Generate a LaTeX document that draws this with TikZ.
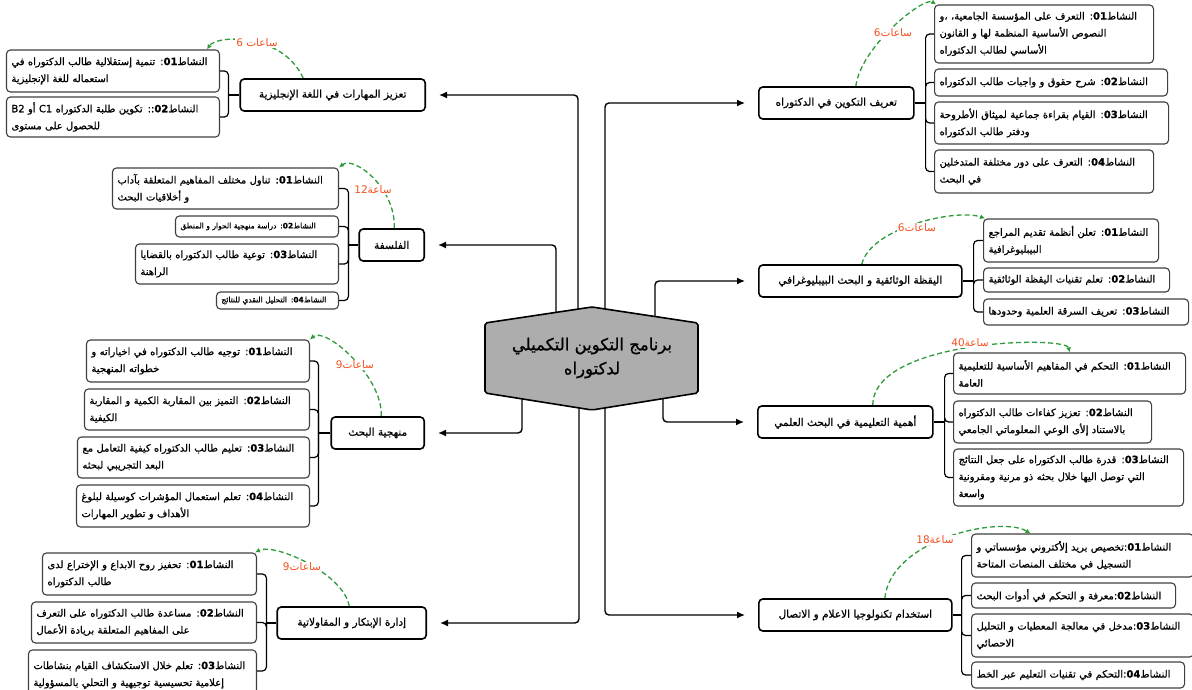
\documentclass[tikz,border=0pt]{standalone}
\usepackage{fontspec}
\usetikzlibrary{arrows.meta}
\newfontfamily\arabicfont[Script=Arabic]{DejaVu Sans}
\newfontfamily\arabicbf[Script=Arabic,FakeBold=0.8]{DejaVu Sans}
\TeXXeTstate=1
\newcommand\artxt[1]{\beginR#1\endR}
\newcommand\nsh[1]{النشاط\beginL\textbf{#1}\endL}
\newcommand\hnum[1]{\beginL#1\endL}
\definecolor{hrscol}{HTML}{F4511E}
\definecolor{hourgreen}{HTML}{2E9B3A}
\definecolor{hubgray}{HTML}{ADADAD}
\pgfdeclarelayer{bg}
\pgfsetlayers{bg,main}
\tikzset{
  topic/.style={draw, line width=1.6pt, rounded corners=4pt, fill=white,
    minimum height=32pt, inner sep=0pt, font=\arabicbf\fontsize{10.5}{13}\selectfont},
  act/.style={draw=black!75, line width=1.1pt, rounded corners=4pt, fill=white,
    align=left, inner xsep=5pt, inner ysep=0pt, font=\arabicbf\fontsize{10}{17}\selectfont},
  tinyact/.style={act, font=\arabicbf\fontsize{7.5}{9}\selectfont},
  spoke/.style={line width=1.4pt, rounded corners=4pt, shorten >=13pt,
    -{Latex[length=8pt,width=7pt]}},
  fork/.style={line width=1.2pt, rounded corners=4pt},
  hourline/.style={hourgreen, line width=1.3pt, dash pattern=on 5pt off 3pt,
    -{Latex[length=5pt,width=5pt]}},
  hrs/.style={fill=white, text=hrscol, inner sep=1pt,
    font=\arabicfont\fontsize{10.5}{12}\selectfont},
  hubshape/.style={draw, fill=hubgray, line width=1.6pt, rounded corners=2pt},
  hubtext/.style={align=center, font=\arabicbf\fontsize{16.5}{24}\selectfont},
}
\begin{document}
\begin{tikzpicture}[x=1pt, y=-1pt]
\useasboundingbox (0,0) rectangle (1192,690);

% centre
\draw[hubshape] (485,323) -- (592,307) -- (698,323) -- (698,393) -- (592,410) -- (485,393) -- cycle;
\node[hubtext] (hub) at (592,358) {\artxt{برنامج التكوين التكميلي}\\\artxt{لدكتوراه}};

% topics, left
\node[topic, minimum width=185pt, anchor=east] (tazeez) at (426,95) {\artxt{تعزيز المهارات في اللغة الإنجليزية}};
\node[topic, minimum width=65pt, anchor=east] (falsafa) at (425,245) {\artxt{الفلسفة}};
\node[topic, minimum width=93pt, anchor=east] (manhaj) at (425,433) {\artxt{منهجية البحث}};
\node[topic, minimum width=149pt, anchor=east] (idara) at (427,623) {\artxt{إدارة الإبتكار و المقاولاتية}};
% topics, right
\node[topic, minimum width=155pt, anchor=west] (taarif) at (758,103) {\artxt{تعريف التكوين في الدكتوراه}};
\node[topic, minimum width=203pt, anchor=west] (yaqadha) at (758,281) {\artxt{اليقظة الوثائقية و البحث البيبليوغرافي}};
\node[topic, minimum width=175pt, anchor=west] (ahamiya) at (757,422) {\artxt{أهمية التعليمية في البحث العلمي}};
\node[topic, minimum width=193pt, anchor=west] (istikhdam) at (758,615) {\artxt{استخدام تكنولوجيا الاعلام و الاتصال}};

% activities
\node[act, text width=203pt, minimum height=42pt, anchor=east] (tz1) at (220,71) {\artxt{\nsh{01}: تنمية إستقلالية طالب الدكتوراه في}\\\artxt{استعماله للغة الإنجليزية}};
\node[act, text width=203pt, minimum height=40pt, anchor=east] (tz2) at (220,117) {\artxt{\nsh{02}:: تكوين طلبة الدكتوراه \beginL C1\endL{} أو \beginL B2\endL}\\\artxt{للحصول على مستوى}};

\node[act, text width=216pt, minimum height=41pt, anchor=east] (fs1) at (339,188.5) {\artxt{\nsh{01}: تناول مختلف المفاهيم المتعلقة بآداب}\\\artxt{و أخلاقيات البحث}};
\node[tinyact, text width=153pt, minimum height=21pt, anchor=east] (fs2) at (339,226.5) {\artxt{\nsh{02}: دراسة منهجية الحوار و المنطق}};
\node[act, text width=193pt, minimum height=40pt, anchor=east] (fs3) at (339,264) {\artxt{\nsh{03}: توعية طالب الدكتوراه بالقضايا}\\\artxt{الراهنة}};
\node[tinyact, text width=112pt, minimum height=17pt, anchor=east] (fs4) at (339,300.5) {\artxt{\nsh{04}: التحليل النقدي للنتائج}};

\node[act, text width=213pt, minimum height=42pt, anchor=east] (mn1) at (310,361) {\artxt{\nsh{01}: توجيه طالب الدكتوراه في اخياراته و}\\\artxt{خطواته المنهجية}};
\node[act, text width=215pt, minimum height=41pt, anchor=east] (mn2) at (310,409.5) {\artxt{\nsh{02}: التميز بين المقاربة الكمية و المقاربة}\\\artxt{الكيفية}};
\node[act, text width=222pt, minimum height=41pt, anchor=east] (mn3) at (310,457.5) {\artxt{\nsh{03}: تعليم طالب الدكتوراه كيفية التعامل مع}\\\artxt{البعد التجريبي لبحثه}};
\node[act, text width=223pt, minimum height=42pt, anchor=east] (mn4) at (310,506) {\artxt{\nsh{04}: تعلم استعمال المؤشرات كوسيلة لبلوغ}\\\artxt{الأهداف و تطوير المهارات}};

\node[act, text width=204pt, minimum height=42pt, anchor=east] (id1) at (257,574) {\artxt{\nsh{01}: تحفيز روح الابداع و الإختراع لدى}\\\artxt{طالب الدكتوراه}};
\node[act, text width=215pt, minimum height=41pt, anchor=east] (id2) at (257,622.5) {\artxt{\nsh{02}: مساعدة طالب الدكتوراه على التعرف}\\\artxt{على المفاهيم المتعلقة بريادة الأعمال}};
\node[act, text width=218pt, minimum height=50pt, anchor=east] (id3) at (257,675) {\artxt{\nsh{03}: تعلم خلال الاستكشاف القيام بنشاطات}\\\artxt{إعلامية تحسيسية توجيهية و التحلي بالمسؤولية}};

\node[act, text width=209pt, minimum height=58pt, anchor=west] (tr1) at (934,34) {\artxt{\nsh{01}: التعرف على المؤسسة الجامعية، ،و}\\\artxt{النصوص الأساسية المنظمة لها و القانون}\\\artxt{الأساسي لطالب الدكتوراه}};
\node[act, text width=223pt, minimum height=27pt, anchor=west] (tr2) at (934,82.5) {\artxt{\nsh{02}: شرح حقوق و واجبات طالب الدكتوراه}};
\node[act, text width=224pt, minimum height=42pt, anchor=west] (tr3) at (934,123) {\artxt{\nsh{03}: القيام بقراءة جماعية لميثاق الأطروحة}\\\artxt{ودفتر طالب الدكتوراه}};
\node[act, text width=209pt, minimum height=43pt, anchor=west] (tr4) at (934,171.5) {\artxt{\nsh{04}: التعرف على دور مختلفة المتدخلين}\\\artxt{في البحث}};

\node[act, text width=165pt, minimum height=43pt, anchor=west] (yq1) at (983,240.5) {\artxt{\nsh{01}: تعلن أنظمة تقديم المراجع}\\\artxt{البيبليوغرافية}};
\node[act, text width=176pt, minimum height=24pt, anchor=west] (yq2) at (983,280) {\artxt{\nsh{02}: تعلم تقنيات اليقظة الوثائقية}};
\node[act, text width=195pt, minimum height=26pt, anchor=west] (yq3) at (983,312) {\artxt{\nsh{03}: تعريف السرقة العلمية وحدودها}};

\node[act, text width=222pt, minimum height=41pt, anchor=west] (ah1) at (953,373.5) {\artxt{\nsh{01}: التحكم في المفاهيم الأساسية للتعليمية}\\\artxt{العامة}};
\node[act, text width=188pt, minimum height=42pt, anchor=west] (ah2) at (953,422) {\artxt{\nsh{02}: تعزيز كفاءات طالب الدكتوراه}\\\artxt{بالاستناد إلأى الوعي المعلوماتي الجامعي}};
\node[act, text width=220pt, minimum height=57pt, anchor=west] (ah3) at (953,477.5) {\artxt{\nsh{03}: قدرة طالب الدكتوراه على جعل النتائج}\\\artxt{التي توصل اليها خلال بحثه ذو مرنية ومقرونية}\\\artxt{واسعة}};

\node[act, text width=212pt, minimum height=43pt, anchor=west] (is1) at (971,555.5) {\artxt{\nsh{01}:\kern0pt\relax تخصيص بريد إلأكتروني مؤسساتي و}\\\artxt{التسجيل في مختلف المنصات المتاحة}};
\node[act, text width=194pt, minimum height=25pt, anchor=west] (is2) at (971,595.5) {\artxt{\nsh{02}:\kern0pt\relax معرفة و التحكم في أدوات البحث}};
\node[act, text width=212pt, minimum height=43pt, anchor=west] (is3) at (971,635.5) {\artxt{\nsh{03}:\kern0pt\relax مدخل في معالجة المعطيات و التحليل}\\\artxt{الاحصائي}};
\node[act, text width=203pt, minimum height=26pt, anchor=west] (is4) at (971,675) {\artxt{\nsh{04}:\kern0pt\relax التحكم في تقنيات التعليم عبر الخط}};

% hours
\node[hrs] (tzh) at (257,43) {\artxt{ساعات \hnum{6}}};
\node[hrs] (fsh) at (373,190) {\artxt{ساعة\hnum{12}}};
\node[hrs] (mnh) at (355,365) {\artxt{ساعات\hnum{9}}};
\node[hrs] (idh) at (302,567) {\artxt{ساعات\hnum{9}}};
\node[hrs] (trh) at (893,33) {\artxt{ساعات\hnum{6}}};
\node[hrs] (yqh) at (917,228) {\artxt{ساعات\hnum{6}}};
\node[hrs] (ahh) at (970,343) {\artxt{ساعة\hnum{40}}};
\node[hrs] (ish) at (935,540) {\artxt{ساعة\hnum{18}}};

\begin{pgfonlayer}{bg}
% spokes from the centre
\draw[spoke] ([xshift=-14pt]hub.center) |- (tazeez);
\draw[spoke] ([xshift=-36pt]hub.center) |- (falsafa);
\draw[spoke] ([xshift=-70pt]hub.center) |- (manhaj);
\draw[spoke] ([xshift=-13pt]hub.center) |- (idara);
\draw[spoke] ([xshift=13pt]hub.center) |- (taarif);
\draw[spoke] ([xshift=63pt]hub.center) |- (yaqadha);
\draw[spoke] ([xshift=71pt]hub.center) |- (ahamiya);
\draw[spoke] ([xshift=13pt]hub.center) |- (istikhdam);

% forks
\draw[fork] (tazeez.west) -- ++(-11,0) coordinate (tzb);
\foreach \s in {tz1,tz2} \draw[fork] (tzb) |- (\s.east);
\draw[fork] (falsafa.west) -- ++(-10,0) coordinate (fsb);
\foreach \s in {fs1,fs2,fs3,fs4} \draw[fork] (fsb) |- (\s.east);
\draw[fork] (manhaj.west) -- ++(-12,0) coordinate (mnb);
\foreach \s in {mn1,mn2,mn3,mn4} \draw[fork] (mnb) |- (\s.east);
\draw[fork] (idara.west) -- ++(-10,0) coordinate (idb);
\foreach \s in {id1,id2} \draw[fork] (idb) |- (\s.east);
\draw[fork] (idb) |- ([yshift=4pt]id3.east);
\draw[fork] (taarif.east) -- ++(11,0) coordinate (trb);
\foreach \s in {tr1,tr2,tr3,tr4} \draw[fork] (trb) |- (\s.west);
\draw[fork] (yaqadha.east) -- ++(11,0) coordinate (yqb);
\foreach \s in {yq1,yq2,yq3} \draw[fork] (yqb) |- (\s.west);
\draw[fork] (ahamiya.east) -- ++(11,0) coordinate (ahb);
\foreach \s in {ah1,ah2,ah3} \draw[fork] (ahb) |- (\s.west);
\draw[fork] (istikhdam.east) -- ++(9,0) coordinate (isb);
\foreach \s in {is1,is2,is3,is4} \draw[fork] (isb) |- (\s.west);

% hour curves
\draw[hourline] ([xshift=-29.5pt]tazeez.north) .. controls +(-20,-45) and +(10,-15) .. ([xshift=-13pt]tz1.north east);
\draw[hourline] ([xshift=2.5pt]falsafa.north) .. controls +(2,-40) and +(15,-12) .. (fs1.north east);
\draw[hourline] ([xshift=3.5pt]manhaj.north) .. controls +(2,-40) and +(15,-13) .. (mn1.north east);
\draw[hourline] ([xshift=-2.5pt]idara.north) .. controls +(-5,-32) and +(20,-10) .. ([xshift=-2pt]id1.north east);
\draw[hourline] ([xshift=19.5pt]taarif.north) .. controls +(5,-40) and +(-12,-8) .. ([xshift=2pt]tr1.north west);
\draw[hourline] ([xshift=1.5pt]yaqadha.north) .. controls +(9,-37) and +(-28,-10) .. ([xshift=2pt]yq1.north west);
\draw[hourline] ([xshift=27.5pt]ahamiya.north) .. controls +(0,-66) and +(-3,-17) .. (ah1.north);
\draw[hourline] ([xshift=29.5pt]istikhdam.north) .. controls +(6,-59) and +(-30,-18) .. ([xshift=-52pt]is1.north);
\end{pgfonlayer}
\end{tikzpicture}
\end{document}
